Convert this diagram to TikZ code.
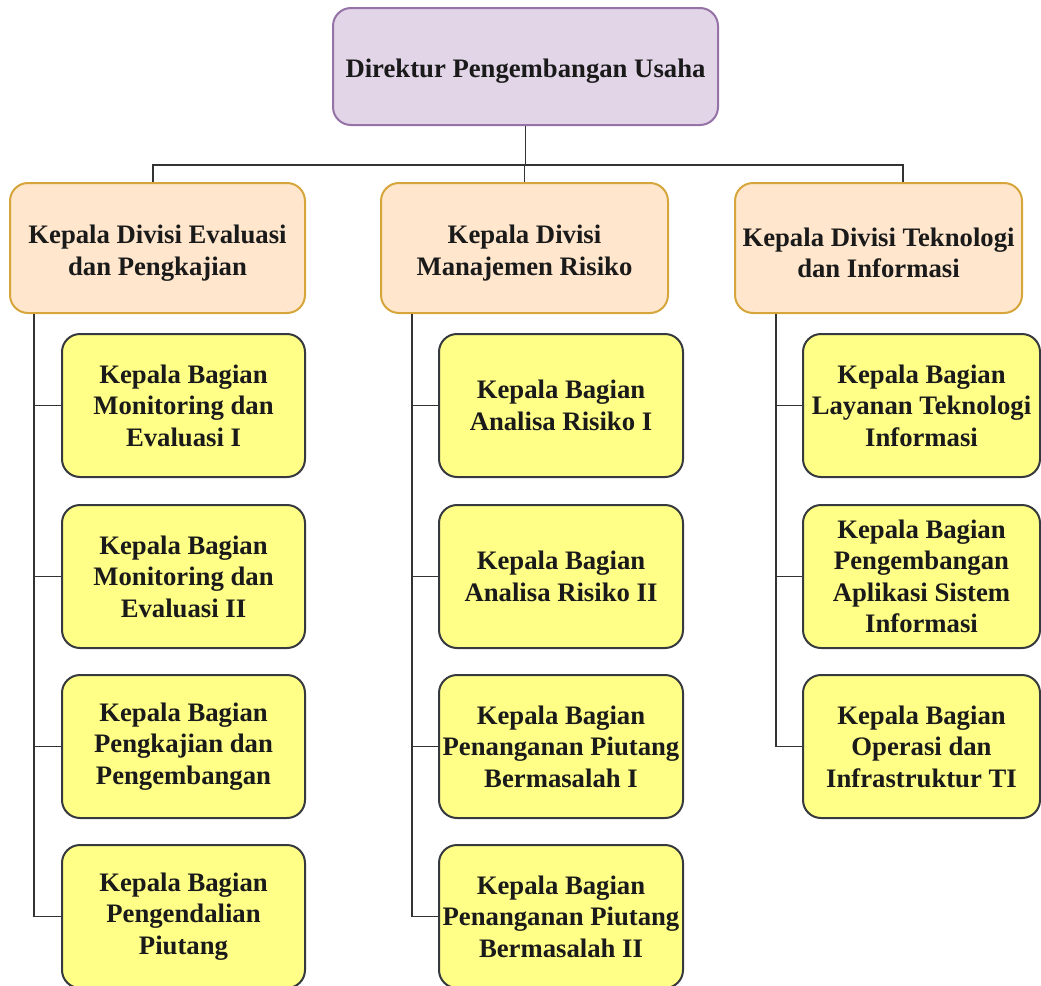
\documentclass[tikz,border=0pt]{standalone}
\usepackage{fontspec}
\setmainfont{Liberation Serif}
\definecolor{dirfill}{HTML}{E1D5E7}
\definecolor{dirline}{HTML}{9673A6}
\definecolor{divfill}{HTML}{FFE6CC}
\definecolor{divline}{HTML}{D6A63C}
\definecolor{bagfill}{HTML}{FFFF88}
\definecolor{bagline}{HTML}{36393D}
\definecolor{ink}{HTML}{1A1A1A}
\definecolor{wire}{HTML}{333333}
% set a line a little lower without changing its measured size
\newcommand\lowline[1]{\raisebox{-5pt}[\height][\depth]{#1}}
\tikzset{
  box/.style={draw, rounded corners=18pt, line width=2pt, inner sep=0pt,
    align=center, text=ink,
    font=\fontsize{26.7}{31.5}\selectfont\bfseries},
  dirbox/.style={box, fill=dirfill, draw=dirline, minimum width=385pt, minimum height=117pt},
  divbox/.style={box, fill=divfill, draw=divline, minimum height=130pt},
  bagbox/.style={box, fill=bagfill, draw=bagline, minimum height=143pt},
  wireline/.style={draw=wire, line width=1.4pt}
}
\begin{document}
\begin{tikzpicture}[x=1pt, y=-1pt]
\useasboundingbox (0,0) rectangle (1041,985);

% director
\node[dirbox] (dir) at (525.5,66.5) {\lowline{Direktur Pengembangan Usaha}};

% division heads
\node[divbox, minimum width=295pt] (d1) at (157.5,248)
  {\lowline{Kepala Divisi Evaluasi}\\\lowline{dan Pengkajian}};
\node[divbox, minimum width=287pt] (d2) at (524.5,248)
  {\lowline{Kepala Divisi}\\\lowline{Manajemen Risiko}};
\node[divbox, minimum width=287pt] (d3) at (878.5,248)
  {\lowline{Kepala Divisi Teknologi}\\\lowline{dan Informasi}};

% section heads, left column
\node[bagbox, minimum width=243pt] (a1) at (183.5,405.5) {Kepala Bagian\\Monitoring dan\\Evaluasi I};
\node[bagbox, minimum width=243pt] (a2) at (183.5,576.5) {Kepala Bagian\\Monitoring dan\\Evaluasi II};
\node[bagbox, minimum width=243pt] (a3) at (183.5,746.5) {Kepala Bagian\\Pengkajian dan\\Pengembangan};
\node[bagbox, minimum width=243pt] (a4) at (183.5,916.5) {Kepala Bagian\\Pengendalian\\Piutang};

% section heads, middle column
\node[bagbox, minimum width=244pt] (b1) at (561,405.5) {Kepala Bagian\\Analisa Risiko I};
\node[bagbox, minimum width=244pt] (b2) at (561,576.5) {Kepala Bagian\\Analisa Risiko II};
\node[bagbox, minimum width=244pt] (b3) at (561,746.5) {Kepala Bagian\\Penanganan Piutang\\Bermasalah I};
\node[bagbox, minimum width=244pt] (b4) at (561,916.5) {Kepala Bagian\\Penanganan Piutang\\Bermasalah II};

% section heads, right column
\node[bagbox, minimum width=237pt] (c1) at (921.5,405.5) {Kepala Bagian\\Layanan Teknologi\\Informasi};
\node[bagbox, minimum width=237pt] (c2) at (921.5,576.5) {Kepala Bagian\\Pengembangan\\Aplikasi Sistem\\Informasi};
\node[bagbox, minimum width=237pt] (c3) at (921.5,746.5) {Kepala Bagian\\Operasi dan\\Infrastruktur TI};

% director to divisions
\coordinate (hub) at ([yshift=-39pt]dir.south);
\begin{scope}[wireline]
\draw (dir.south) -- (hub);
\draw (hub) -| ([xshift=-4.5pt]d1.north);
\draw (hub) -| (d2.north);
\draw (hub) -| ([xshift=24.5pt]d3.north);

% divisions to sections
\foreach \n in {a1,a2,a3,a4}
  \draw ([xshift=25pt]d1.south west) |- (\n.west);
\foreach \n in {b1,b2,b3,b4}
  \draw ([xshift=32pt]d2.south west) |- (\n.west);
\foreach \n in {c1,c2,c3}
  \draw ([xshift=42pt]d3.south west) |- (\n.west);
\end{scope}
\end{tikzpicture}
\end{document}
